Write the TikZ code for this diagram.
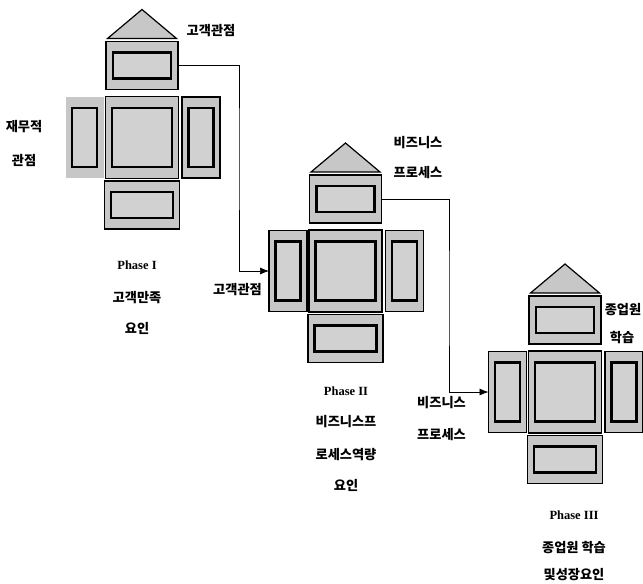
\documentclass[tikz,border=0pt]{standalone}
\usepackage{fontspec}
\setmainfont{Liberation Serif}
\newfontfamily\kr{Noto Sans CJK KR}
\usetikzlibrary{arrows.meta}
\tikzset{
  obox/.style={draw=black, line width=1.3pt, fill=black!22, inner sep=0pt, outer sep=0pt},
  ibox/.style={draw=black, line width=2.2pt, fill=black!18, inner sep=0pt, outer sep=0pt},
  lbox/.style={},
  roof/.style={draw=black, line width=1.2pt, fill=black!22, line join=miter},
  conn/.style={draw=black, line width=0.7pt, -{Latex[length=9pt,width=7pt]}},
  kor/.style={font=\kr\bfseries\fontsize{13.2}{15}\selectfont, inner sep=0pt},
  phase/.style={font=\bfseries\fontsize{12.5}{14}\selectfont, inner sep=0pt},
  house/.pic={
    \draw[roof] (-34.5,-99) -- (0,-128) -- (34.5,-99) -- cycle;
    \node[obox, minimum width=73pt, minimum height=82pt] (-mid) at (0,0) {};
    \node[ibox, minimum width=60pt, minimum height=59pt] (-midin) at (0,0) {};
    \node[obox, minimum width=72pt, minimum height=48pt] (-top) at (0,-72) {};
    \node[ibox, minimum width=58pt, minimum height=26pt] (-topin) at (0,-72) {};
    \node[obox, lbox, minimum width=38pt, minimum height=81pt] (-left) at (-57.5,0) {};
    \node[ibox, minimum width=25pt, minimum height=59pt] (-leftin) at (-57.5,0) {};
    \node[obox, minimum width=38pt, minimum height=81pt] (-right) at (59,0) {};
    \node[ibox, minimum width=25pt, minimum height=59pt] (-rightin) at (59,0) {};
    \node[obox, minimum width=75pt, minimum height=48pt] (-bot) at (0,67.5) {};
    \node[ibox, minimum width=62pt, minimum height=26pt] (-botin) at (0,67.5) {};
  }
}
\begin{document}
\begin{tikzpicture}[x=1pt, y=-1pt]
\useasboundingbox (0,0) rectangle (643,584);
\fill[white] (0,0) rectangle (643,584);

\pic[lbox/.style={draw=none}] (g1) at (142,137.5) {house};
\pic (g2) at (345.5,271) {house};
\pic (g3) at (565,392) {house};

\coordinate (k1) at (239,150);
\coordinate (k2) at (449,300);
\draw[conn] (g1-top.east) -| (k1) |- (g2-left.west);
\draw[conn] (g2-top.east) -| (k2) |- (g3-left.west);

% group 1 labels
\node[kor] (l1a) at (211,31) {고객관점};
\node[kor] (l1b) at (24,127) {재무적};
\node[kor] (l1c) at (24,160) {관점};
\node[phase] (p1a) at (137,265) {Phase I};
\node[kor] (p1b) at (137,298) {고객만족};
\node[kor] (p1c) at (137,328) {요인};

% group 2 labels
\node[kor] (l2a) at (237.5,290) {고객관점};
\node[kor] (l2b) at (418,143) {비즈니스};
\node[kor] (l2c) at (418,173) {프로세스};
\node[phase] (p2a) at (346,391) {Phase II};
\node[kor] (p2b) at (346,422) {비즈니스프};
\node[kor] (p2c) at (346,455) {로세스역량};
\node[kor] (p2d) at (346,485) {요인};

% group 3 labels
\node[kor] (l3a) at (441.5,403) {비즈니스};
\node[kor] (l3b) at (441.5,435) {프로세스};
\node[kor] (l3c) at (623,310) {종업원};
\node[kor] (l3d) at (622,338) {학습};
\node[phase] (p3a) at (574,515) {Phase III};
\node[kor] (p3b) at (574,548) {종업원 학습};
\node[kor] (p3c) at (574,575) {및성장요인};
\end{tikzpicture}
\end{document}
